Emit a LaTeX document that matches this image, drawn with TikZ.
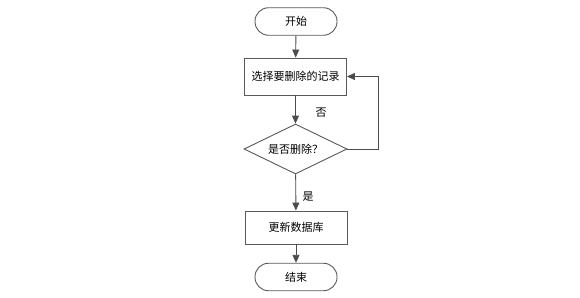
\documentclass[tikz,border=0pt]{standalone}
\usepackage{fontspec}
\newfontfamily\cjk{Noto Sans CJK SC}
\usetikzlibrary{arrows.meta,shapes.geometric}
\begin{document}
\begin{tikzpicture}[x=1pt,y=1pt,line width=.9pt,
  font=\cjk\fontsize{11}{13}\selectfont,
  >={Triangle[width=7pt,length=8pt]},
  edge/.style={draw=black!65,fill=white},
  terminal/.style={edge,rounded corners=13.5pt,minimum width=82pt,
    minimum height=27.5pt,inner sep=0pt},
  process/.style={edge,minimum width=102pt,inner sep=0pt},
  decision/.style={edge,diamond,aspect=2,minimum width=103pt,
    minimum height=50pt,inner sep=0pt},
  flow/.style={draw=black!65,->,>={Triangle[width=7pt,length=8pt]},
    color=black!70}]
  \useasboundingbox (0,0) rectangle (580,-297);
  % nodes from top to bottom
  \node[terminal] (begin) at (296,-21.5) {开始};
  \node[process,minimum height=37pt] (pick) at (295.5,-76.5) {选择要删除的记录};
  \node[decision] (ask) at (295.5,-149) {是否删除？};
  \node[process,minimum height=33pt] (update) at (296,-227.5) {更新数据库};
  \node[terminal] (finish) at (296,-277) {结束};
  \foreach \from/\to in {begin/pick,pick/ask,ask/update,update/finish}
    \draw[flow] (\from) -- (\to);
  % back to the selection when the answer is no
  \draw[flow] (ask.east) -- ++(31,0) |- (pick.east);
  \node (no) at (321,-113) {否};
  \node (yes) at (308,-197) {是};
\end{tikzpicture}
\end{document}
